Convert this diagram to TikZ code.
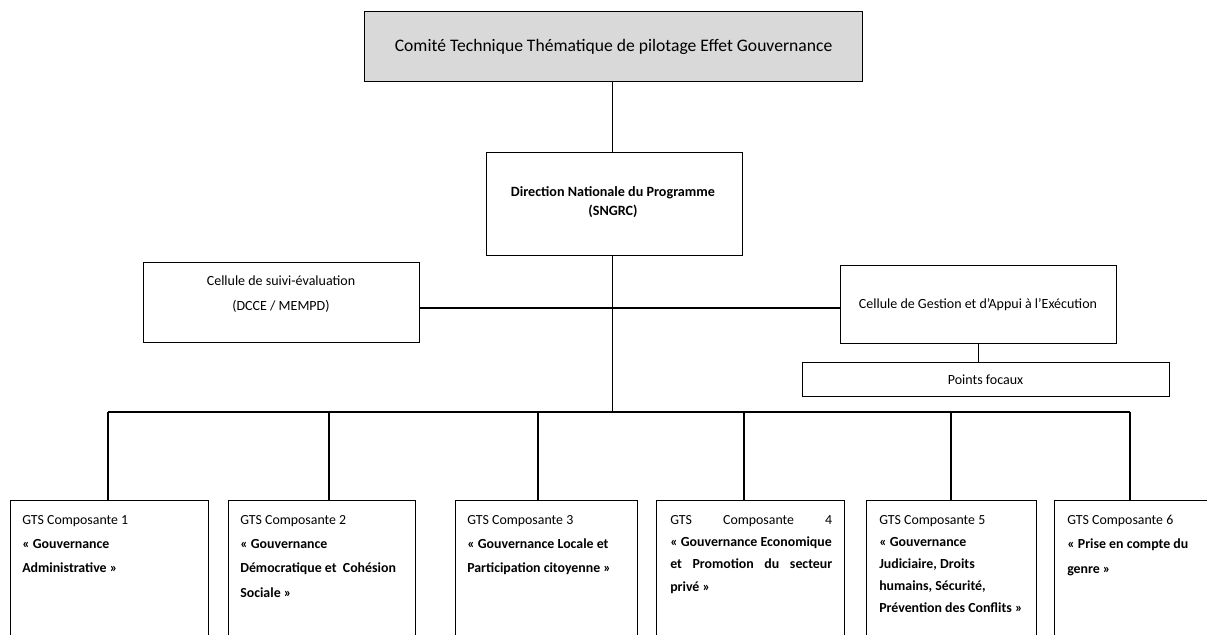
\documentclass[tikz,border=0pt]{standalone}
\usepackage{fontspec}
\setmainfont{Carlito}
\definecolor{headgray}{HTML}{D9D9D9}
\begin{document}
\begin{tikzpicture}[x=0.75pt,y=-0.75pt,
  box/.style={draw, line width=0.9pt, rectangle, inner sep=0pt, anchor=north west},
  sz/.style 2 args={minimum width=#1*0.75pt, minimum height=#2*0.75pt},
  wire/.style={line width=0.9pt},
  lbl/.style={inner sep=0pt, align=center, font=\fontsize{10.5}{14}\selectfont},
  gts/.style={anchor=north west, inner sep=0pt, align=left, font=\fontsize{10.4}{18.2}\selectfont},
  gtsj/.style={anchor=north west, inner sep=0pt, text width=121.5pt, align=justify, font=\fontsize{10.4}{16.7}\selectfont}
]
\useasboundingbox (0,0) rectangle (1207,635);
\begin{scope}
\clip (0,0) rectangle (1207,635);

% steering committee and programme direction
\node[box, sz={498}{70}, fill=headgray, font=\fontsize{13.2}{16}\selectfont] (comite) at (364,11)
  {Comité Technique Thématique de pilotage Effet Gouvernance};
\node[box, sz={256}{103}] (dir) at (486,152) {};
\node[lbl, font=\fontsize{10.6}{14}\selectfont\bfseries] (dirtxt) at (613,202)
  {Direction Nationale du Programme\\(SNGRC)};

% support cells
\node[box, sz={276}{80}] (suivi) at (143,262) {};
\node[lbl, font=\fontsize{10.5}{18.75}\selectfont] (suivitxt) at (281,294)
  {Cellule de suivi-évaluation\\(DCCE / MEMPD)};
\node[box, sz={276}{78}] (gestion) at (840,265) {};
\node[lbl] (gestiontxt) at (978,305) {Cellule de Gestion et d’Appui à l’Exécution};
\node[box, sz={367}{34}] (points) at (802,362) {};
\node[lbl] (pointstxt) at (985.5,380) {Points focaux};

% thematic working groups
\node[box, sz={198}{200}] (b1) at (10,500) {};
\node[box, sz={187}{200}] (b2) at (228,500) {};
\node[box, sz={182}{200}] (b3) at (455,500) {};
\node[box, sz={188}{200}] (b4) at (656,500) {};
\node[box, sz={170}{200}] (b5) at (866,500) {};
\node[box, sz={170}{200}] (b6) at (1054,500) {};

\node[gts] (t1) at (22,515) {GTS Composante 1\\\textbf{«~Gouvernance}\\\textbf{Administrative~»}};
\node[gts] (t2) at (240,515) {GTS Composante 2\\\textbf{«~Gouvernance}\\\textbf{Démocratique et~ Cohésion}\\\textbf{Sociale~»}};
\node[gts] (t3) at (467,515) {GTS Composante 3\\\textbf{«~Gouvernance Locale et}\\\textbf{Participation citoyenne~»}};
\node[gtsj] (t4) at (670,515) {GTS\hfill Composante\hfill 4\\\textbf{«~Gouvernance Economique}\\\textbf{et\hfill Promotion\hfill du\hfill secteur}\\\textbf{privé~»}};
\node[gts, font=\fontsize{10.4}{16.5}\selectfont] (t5) at (879,515) {GTS Composante 5\\\textbf{«~Gouvernance}\\\textbf{Judiciaire, Droits}\\\textbf{humains, Sécurité,}\\\textbf{Prévention des Conflits~»}};
\node[gts] (t6) at (1067,515) {GTS Composante 6\\\textbf{«~Prise en compte du}\\\textbf{genre~»}};

% connectors: one vertical axis through the committee, the direction and the bus
\coordinate (axis) at (612.5,0);
\coordinate (mid) at (612.5,308);
\coordinate (bus) at (612.5,412);
\draw[wire] (comite.south -| axis) -- (dir.north -| axis);
\draw[wire] (dir.south -| axis) -- (bus);
\draw[wire] (suivi.east |- mid) -- (gestion.west |- mid);
\draw[wire] (gestion.south) -- (points.north -| gestion.south);
\coordinate (busL) at (108,412);
\coordinate (busR) at (1130,412);
\draw[wire] (busL) -- (busR);
\draw[wire] (busL) -- (b1.north -| busL);
\draw[wire] (329,412) -- (b2.north -| 329,0);
\draw[wire] (538,412) -- (b3.north -| 538,0);
\draw[wire] (744,412) -- (b4.north -| 744,0);
\draw[wire] (951,412) -- (b5.north -| 951,0);
\draw[wire] (busR) -- (b6.north -| busR);
\end{scope}
\end{tikzpicture}
\end{document}
